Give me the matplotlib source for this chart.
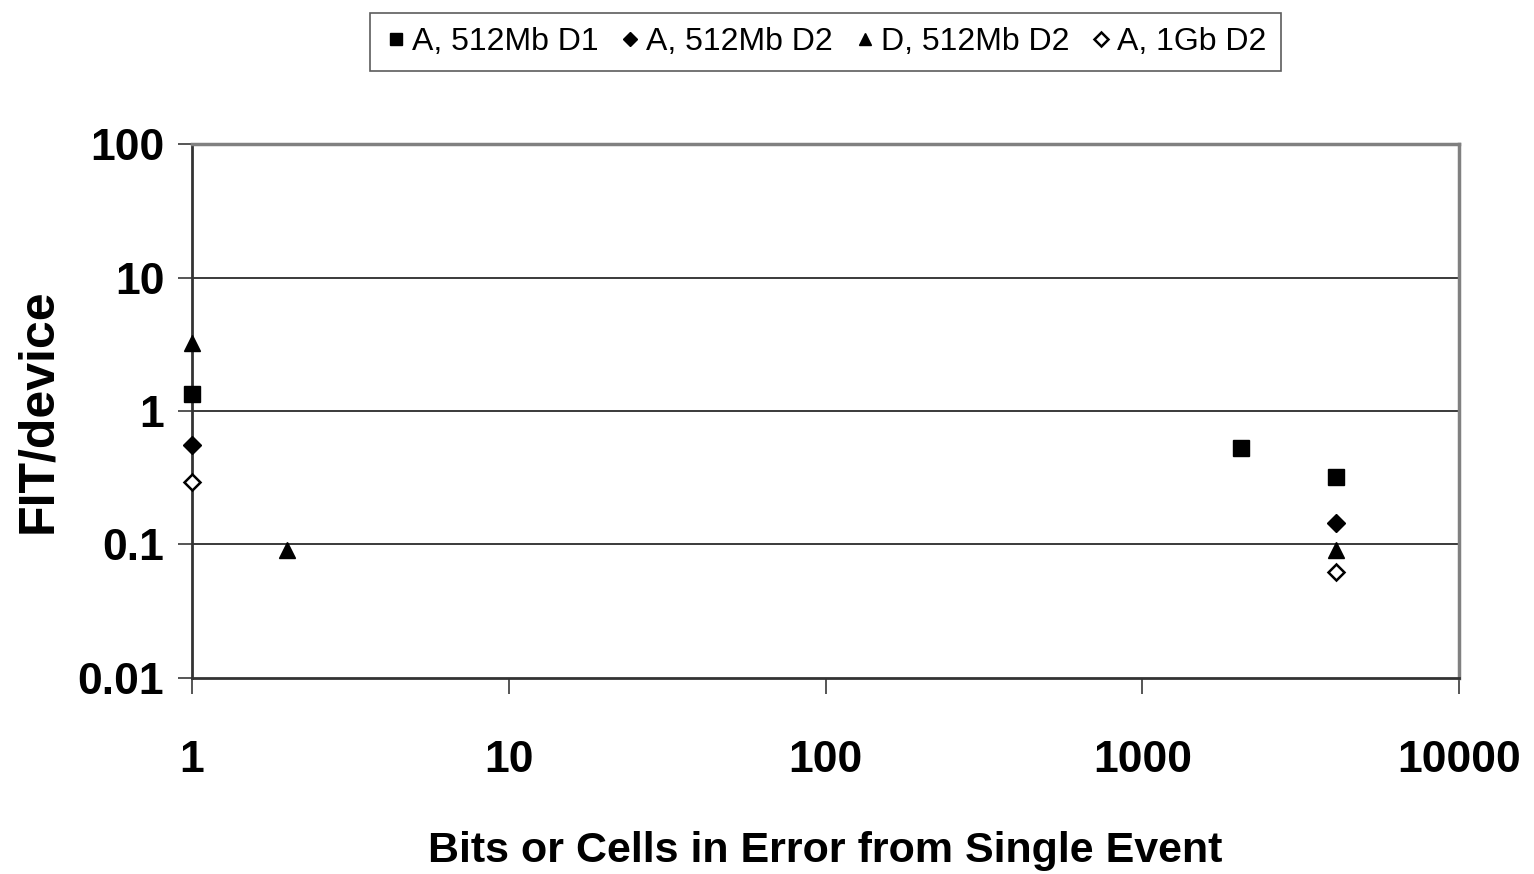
import matplotlib
matplotlib.use("Agg")
import matplotlib.pyplot as plt
from matplotlib.ticker import FixedLocator, FixedFormatter, NullLocator

# series
labels = ["A, 512Mb D1", "A, 512Mb D2", "D, 512Mb D2", "A, 1Gb D2"]
x_a512_d1 = [1, 2048, 4096]
y_a512_d1 = [1.34, 0.53, 0.32]
x_a512_d2 = [1, 4096]
y_a512_d2 = [0.556, 0.145]
x_d512_d2 = [1, 2, 4096]
y_d512_d2 = [3.23, 0.091, 0.091]
x_a1g_d2 = [1, 4096]
y_a1g_d2 = [0.294, 0.0622]

x_ticks = [1, 10, 100, 1000, 10000]
y_ticks = [0.01, 0.1, 1, 10, 100]
x_ticklabels = ["1", "10", "100", "1000", "10000"]
y_ticklabels = ["0.01", "0.1", "1", "10", "100"]

plt.rcParams['font.family'] = ['Liberation Sans', 'DejaVu Sans']

fig = plt.figure(figsize=(15.34, 8.74), dpi=100)
ax = fig.add_axes([0.1252, 0.2243, 0.8259, 0.6109])
ax.set_xscale('log')
ax.set_yscale('log')
ax.set_xlim(1, 10000)
ax.set_ylim(0.01, 100)

ms = 11
ax.plot(x_a512_d1, y_a512_d1, 's', color='black', ms=ms, ls='none', label=labels[0], clip_on=False, zorder=5)
ax.plot(x_a512_d2, y_a512_d2, 'D', color='black', ms=ms * 0.8, ls='none', label=labels[1], clip_on=False, zorder=5)
ax.plot(x_d512_d2, y_d512_d2, '^', color='black', ms=ms, ls='none', label=labels[2], clip_on=False, zorder=5)
ax.plot(x_a1g_d2, y_a1g_d2, 'D', mfc='white', mec='black', mew=1.8, ms=ms * 0.75, ls='none', label=labels[3], clip_on=False, zorder=5)

# gridlines at each decade, no vertical grid
for yv in y_ticks[1:]:
    ax.axhline(yv, color='#3a3a3a', lw=1.4, zorder=1)

ax.xaxis.set_major_locator(FixedLocator(x_ticks))
ax.xaxis.set_major_formatter(FixedFormatter(x_ticklabels))
ax.xaxis.set_minor_locator(NullLocator())
ax.yaxis.set_major_locator(FixedLocator(y_ticks))
ax.yaxis.set_major_formatter(FixedFormatter(y_ticklabels))
ax.yaxis.set_minor_locator(NullLocator())

ax.tick_params(axis='x', direction='out', length=11.5, width=1.4, color='#555555', pad=33,
               labelsize=32)
ax.tick_params(axis='y', direction='out', length=10, width=1.4, color='#555555', pad=10,
               labelsize=32)
for lab in ax.get_xticklabels() + ax.get_yticklabels():
    lab.set_fontweight('bold')

ax.spines['left'].set_color('#333333')
ax.spines['bottom'].set_color('#333333')
ax.spines['left'].set_linewidth(2)
ax.spines['bottom'].set_linewidth(2)
ax.spines['top'].set_color('#808080')
ax.spines['right'].set_color('#808080')
ax.spines['top'].set_linewidth(2.5)
ax.spines['right'].set_linewidth(2.5)

ax.set_xlabel("Bits or Cells in Error from Single Event", fontsize=31, fontweight='bold',
              labelpad=36)
ax.set_ylabel("FIT/device", fontsize=36, fontweight='bold', labelpad=12)

leg = ax.legend(loc='center', bbox_to_anchor=(0.5, 1.191), ncol=4, frameon=True,
                fancybox=False, edgecolor='#333333', prop={'size': 23},
                handletextpad=0.15, columnspacing=0.65, handlelength=0.7, markerscale=0.85,
                borderpad=0.45, borderaxespad=0)
leg.get_frame().set_linewidth(1.2)

fig.savefig("out.png", dpi=100)
